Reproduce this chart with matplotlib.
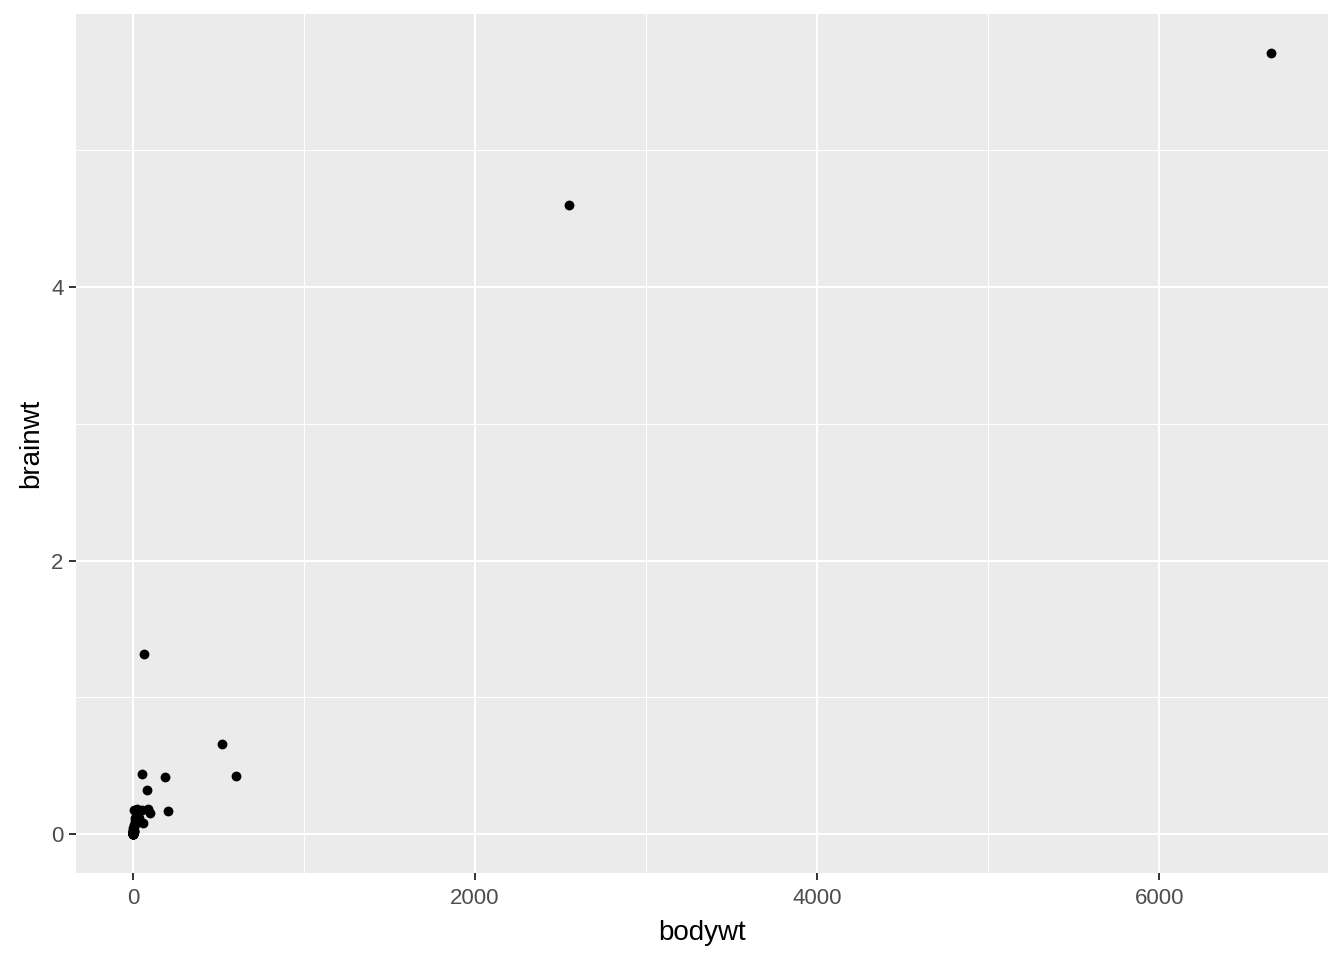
import matplotlib
matplotlib.use("Agg")
import matplotlib.pyplot as plt
import numpy as np

# msleep: bodywt vs brainwt (rows with brainwt available)
bodywt = [0.480, 0.019, 600.000, 14.000, 14.800, 33.500, 0.728, 4.750, 0.420, 0.060,
          1.000, 0.005, 3.500, 2.950, 1.700, 2547.000, 0.023, 521.000, 187.000, 0.770,
          10.000, 3.300, 0.200, 85.000, 2.625, 62.000, 6654.000, 6.800, 0.120, 0.022,
          0.010, 1.400, 2.500, 55.500, 52.200, 100.000, 25.235, 0.550, 0.021, 1.620,
          60.000, 3.600, 0.320, 0.743, 0.075, 0.148, 0.122, 0.920, 0.101, 86.250,
          4.500, 0.112, 207.501, 0.900, 0.104, 2.000, 3.380, 4.230]
brainwt = [0.0155, 0.00029, 0.423, 0.070, 0.0982, 0.115, 0.0055, 0.0640, 0.0064, 0.001,
           0.0066, 0.00014, 0.0108, 0.0123, 0.0063, 4.603, 0.0003, 0.655, 0.419, 0.0035,
           0.115, 0.0256, 0.005, 0.325, 0.01227, 1.320, 5.712, 0.179, 0.001, 0.0004,
           0.00025, 0.0125, 0.0121, 0.175, 0.440, 0.157, 0.180, 0.0024, 0.0003, 0.0114,
           0.081, 0.021, 0.0019, 0.020, 0.0012, 0.00118, 0.003, 0.0057, 0.004, 0.180,
           0.025, 0.0017, 0.169, 0.0026, 0.0025, 0.0175, 0.0445, 0.0504]

x_ticks = [0, 2000, 4000, 6000]
x_minor = [1000, 3000, 5000]
y_ticks = [0, 2, 4]
y_minor = [1, 3, 5]

plt.rcParams['font.family'] = ['Liberation Sans', 'DejaVu Sans']

W, H = 1344, 960
fig = plt.figure(figsize=(W / 100, H / 100), dpi=100)
ax = fig.add_axes([76 / W, 1 - 873 / H, (1328 - 76) / W, (873 - 14) / H])
ax.set_facecolor('#EBEBEB')

xmin, xmax = min(bodywt), max(bodywt)
ymin, ymax = min(brainwt), max(brainwt)
ex = (xmax - xmin) * 0.05
ey = (ymax - ymin) * 0.05
ax.set_xlim(xmin - ex, xmax + ex)
ax.set_ylim(ymin - ey, ymax + ey)

for v in x_minor:
    ax.axvline(v, color='white', lw=0.75, zorder=0)
for v in y_minor:
    ax.axhline(v, color='white', lw=0.75, zorder=0)
for v in x_ticks:
    ax.axvline(v, color='white', lw=1.5, zorder=0)
for v in y_ticks:
    ax.axhline(v, color='white', lw=1.5, zorder=0)

ax.scatter(bodywt, brainwt, s=50, color='black', zorder=3, linewidths=0)

ax.set_xticks(x_ticks)
ax.set_yticks(y_ticks)
ax.set_xticklabels([str(v) for v in x_ticks])
ax.set_yticklabels([str(v) for v in y_ticks])
ax.tick_params(axis='both', colors='#333333', length=5, width=1.4,
               labelsize=16, labelcolor='#4D4D4D')
ax.tick_params(axis='x', pad=6)
ax.tick_params(axis='y', pad=4)
for s in ax.spines.values():
    s.set_visible(False)

ax.set_xlabel('bodywt', fontsize=20, color='black', labelpad=8)
ax.set_ylabel('brainwt', fontsize=20, color='black', labelpad=5)

fig.savefig('out.png', dpi=100)
